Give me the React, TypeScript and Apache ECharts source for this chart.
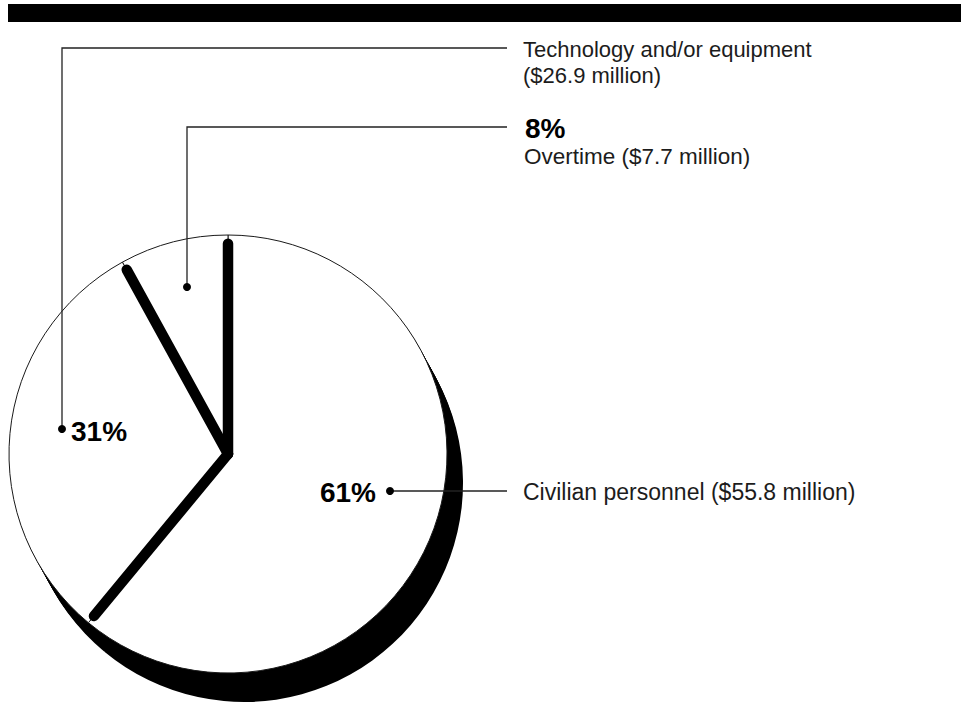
import React, { useEffect, useRef } from "react";
import * as echarts from "echarts";

const categories = ["Civilian personnel", "Technology and/or equipment", "Overtime"];
const percents = [61, 31, 8];
const millions = [55.8, 26.9, 7.7];

const CX = 228;
const CY = 454;
const R = 219;
const SHADOW_DX = 16;
const SHADOW_DY = 29;
const SHADOW_STEPS = 14;

export default function App() {
  const ref = useRef<HTMLDivElement>(null);
  useEffect(() => {
    if (!ref.current) return;
    const chart = echarts.init(ref.current, null, { renderer: "svg" });
    const pieData = categories.map((c, i) => ({ name: c, value: percents[i] }));
    const total = percents.reduce((a, b) => a + b, 0);
    const starts: number[] = [];
    let acc = 0;
    percents.forEach((p) => {
      starts.push(acc);
      acc += p;
    });

    const shadowSeries: any[] = [];
    for (let k = 1; k <= SHADOW_STEPS; k++) {
      shadowSeries.push({
        type: "pie",
        silent: true,
        z: 1,
        center: [CX + (SHADOW_DX * k) / SHADOW_STEPS, CY + (SHADOW_DY * k) / SHADOW_STEPS],
        radius: R,
        startAngle: 90,
        clockwise: true,
        label: { show: false },
        labelLine: { show: false },
        emphasis: { disabled: true },
        itemStyle: { color: "#000", borderWidth: 0 },
        data: pieData,
      });
    }

    const font = "'Liberation Sans', Arial, Helvetica, sans-serif";
    const txt = (x: number, y: number, text: string, size: number, bold: boolean, align = "left") => ({
      type: "text",
      x,
      y,
      z: 20,
      style: {
        text,
        fill: bold ? "#000" : "#1c1c1c",
        fontSize: size,
        fontWeight: bold ? "bold" : "normal",
        fontFamily: font,
        textAlign: align,
        textVerticalAlign: "middle",
      },
    });
    const lineStyle = { stroke: "#222", lineWidth: 1.3, fill: null };
    const dot = (x: number, y: number) => ({
      type: "circle",
      z: 20,
      shape: { cx: x, cy: y, r: 4 },
      style: { fill: "#000" },
    });

    const fmt = (v: number) => `($${v.toFixed(1)} million)`;

    chart.setOption({
      animation: false,
      backgroundColor: "#fff",
      polar: { center: [CX, CY], radius: R },
      angleAxis: {
        type: "value",
        min: 0,
        max: total,
        startAngle: 90,
        clockwise: true,
        show: false,
      },
      radiusAxis: { type: "value", min: 0, max: 1, show: false },
      series: [
        ...shadowSeries,
        {
          type: "pie",
          silent: true,
          z: 2,
          center: [CX, CY],
          radius: R,
          startAngle: 90,
          clockwise: true,
          label: { show: false },
          labelLine: { show: false },
          emphasis: { disabled: true },
          itemStyle: { color: "#fff", borderColor: "#1a1a1a", borderWidth: 1 },
          data: pieData,
        },
        {
          type: "custom",
          coordinateSystem: "polar",
          silent: true,
          z: 3,
          encode: { radius: 0, angle: 1 },
          data: starts.map((s) => [1, s]),
          renderItem: (params: any, api: any) => {
            const a = api.value(1);
            const p0 = api.coord([0, a]);
            const p1 = api.coord([0.96, a]);
            return {
              type: "line",
              shape: { x1: p0[0], y1: p0[1], x2: p1[0], y2: p1[1] },
              style: { stroke: "#000", lineWidth: 10.5, lineCap: "round" },
            };
          },
        },
      ],
      graphic: [
        { type: "rect", z: 20, shape: { x: 8, y: 4, width: 953, height: 18 }, style: { fill: "#000" } },
        // Technology leader
        { type: "polyline", z: 20, shape: { points: [[62, 429], [62, 48], [507, 48]] }, style: lineStyle },
        dot(62, 429),
        txt(523, 49, categories[1], 22, false),
        txt(523, 75, fmt(millions[1]), 22, false),
        txt(71, 431, `${percents[1]}%`, 28, true),
        // Overtime leader
        { type: "polyline", z: 20, shape: { points: [[187, 287], [187, 127], [507, 127]] }, style: lineStyle },
        dot(187, 287),
        txt(525, 128, `${percents[2]}%`, 28, true),
        txt(524, 156, `${categories[2]} ${fmt(millions[2])}`, 22.5, false),
        // Civilian leader
        { type: "polyline", z: 20, shape: { points: [[390, 491], [507, 491]] }, style: lineStyle },
        dot(390, 491),
        txt(376, 492, `${percents[0]}%`, 28, true, "right"),
        txt(523, 492, `${categories[0]} ${fmt(millions[0])}`, 23, false),
      ],
    });
    return () => chart.dispose();
  }, []);
  return (
    <div
      ref={ref}
      style={{ position: "fixed", left: 0, top: 0, width: 969, height: 704, background: "#fff" }}
    />
  );
}
